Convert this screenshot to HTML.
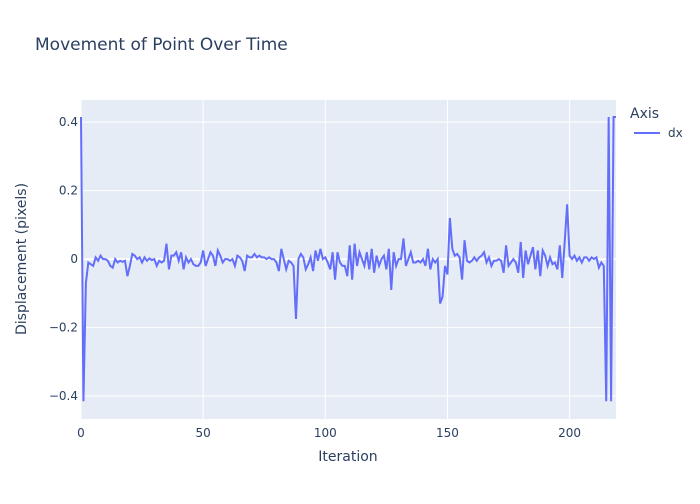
<!DOCTYPE html>
<html><head><meta charset="utf-8"><style>
body{margin:0;background:#fff;font-family:"DejaVu Sans",sans-serif}
svg text{font-family:"DejaVu Sans","Liberation Sans",sans-serif;fill:#2a3f5f}
</style></head><body>
<svg id="chart" width="700" height="500">
<rect width="700" height="500" fill="#fff"/>
<text x="35" y="50" font-size="17">Movement of Point Over Time</text>
<rect x="81" y="100" width="535" height="319" fill="#e5ecf6"/>
<g id="grid"></g>
<g id="ticks"></g>
<path id="line" fill="none" stroke="#636efa" stroke-width="2"/>
<text x="348" y="461" font-size="14" text-anchor="middle">Iteration</text>
<text transform="translate(26,259) rotate(-90)" font-size="14" text-anchor="middle">Displacement (pixels)</text>
<text x="630" y="118" font-size="14">Axis</text>
<g>
<line x1="634" y1="133" x2="660" y2="133" stroke="#636efa" stroke-width="2"/>
<text x="668" y="137" font-size="12">dx</text>
</g>
</svg>
<script>
const xTicks=[0,50,100,150,200];
const yTicks=[-0.4,-0.2,0,0.2,0.4];
const yTickLabels=["−0.4","−0.2","0","0.2","0.4"];
const dx=[0.415,-0.415,-0.07,-0.01,-0.015,-0.02,0.005,-0.005,0.01,0,0,-0.005,-0.02,-0.025,0,-0.01,-0.005,-0.008,-0.005,-0.05,
-0.02,0.015,0.01,0,0.005,-0.01,0.005,-0.005,0.002,-0.003,0,-0.02,-0.005,-0.01,-0.005,0.045,-0.03,0.01,0.01,0.02,
-0.005,0.02,-0.03,0.005,-0.01,0,-0.015,-0.02,-0.02,-0.01,0.025,-0.02,0,0.02,0.01,-0.02,0.025,0.01,-0.01,0,
0,-0.005,0,-0.02,0.01,0.005,-0.005,-0.035,0.01,0.005,0.005,0.015,0.005,0.01,0.005,0.005,0,0.005,0,0,
-0.01,-0.035,0.03,0,-0.03,-0.005,-0.01,-0.02,-0.175,0,0.015,0.005,-0.03,-0.015,0.005,-0.035,0.025,-0.005,0.03,0,
0.005,-0.01,-0.03,0.02,-0.06,0.02,-0.01,-0.02,-0.02,-0.05,0.04,-0.06,0.045,-0.02,0.02,0,-0.02,0.02,-0.03,0.03,
-0.04,0.01,-0.02,0,0.01,-0.03,0.03,-0.09,0.02,-0.02,0,0,0.06,-0.02,0,0.02,-0.01,-0.01,-0.005,-0.01,
0,-0.02,0.03,-0.03,0,-0.01,0,-0.13,-0.11,-0.02,-0.045,0.12,0.03,0.01,0.015,0.005,-0.06,0.055,-0.005,-0.01,
-0.005,0.005,-0.005,0.005,0.01,0.02,-0.01,0.005,-0.02,-0.005,-0.005,0,-0.005,-0.04,0.04,-0.02,-0.01,0,-0.01,-0.04,
0.05,-0.055,0.025,-0.015,0.01,0.035,-0.03,0.025,-0.05,0.025,0.01,-0.02,0.005,-0.015,-0.01,-0.03,0.04,-0.055,0.05,0.16,
0.01,0,0.01,-0.005,0.005,-0.01,0.005,0.005,-0.005,0.005,0,0.005,-0.025,-0.01,-0.02,-0.415,0.415,-0.415,0.415,0.415];
const X0=81,X1=616,Y0=419,Y1=100,xmin=0,xmax=219,ymin=-0.467,ymax=0.4645;
const xs=v=>X0+(v-xmin)/(xmax-xmin)*(X1-X0);
const ys=v=>Y0-(v-ymin)/(ymax-ymin)*(Y0-Y1);
const NS="http://www.w3.org/2000/svg";
const grid=document.getElementById('grid'),ticks=document.getElementById('ticks');
function mk(tag,attrs,parent){const e=document.createElementNS(NS,tag);for(const k in attrs)e.setAttribute(k,attrs[k]);parent.appendChild(e);return e;}
xTicks.forEach(t=>{
 const l=mk('line',{x1:xs(t),x2:xs(t),y1:Y1,y2:Y0,stroke:'#fff','stroke-width':1},grid);
 
 
 const tx=mk('text',{x:xs(t),y:Y0+18,'font-size':12,'text-anchor':'middle'},ticks);
 tx.textContent=t;
 
 
});
yTicks.forEach((t,i)=>{
 const l=mk('line',{x1:X0,x2:X1,y1:ys(t),y2:ys(t),stroke:'#fff','stroke-width':t===0?2:1},grid);
 
 
 const tx=mk('text',{x:X0-3,y:ys(t)+4,'font-size':12,'text-anchor':'end'},ticks);
 tx.textContent=yTickLabels[i];
 
 
});
document.getElementById('line').setAttribute('d',dx.map((v,i)=>(i?'L':'M')+xs(i).toFixed(2)+','+ys(v).toFixed(2)).join(''));
</script>
</body></html>
